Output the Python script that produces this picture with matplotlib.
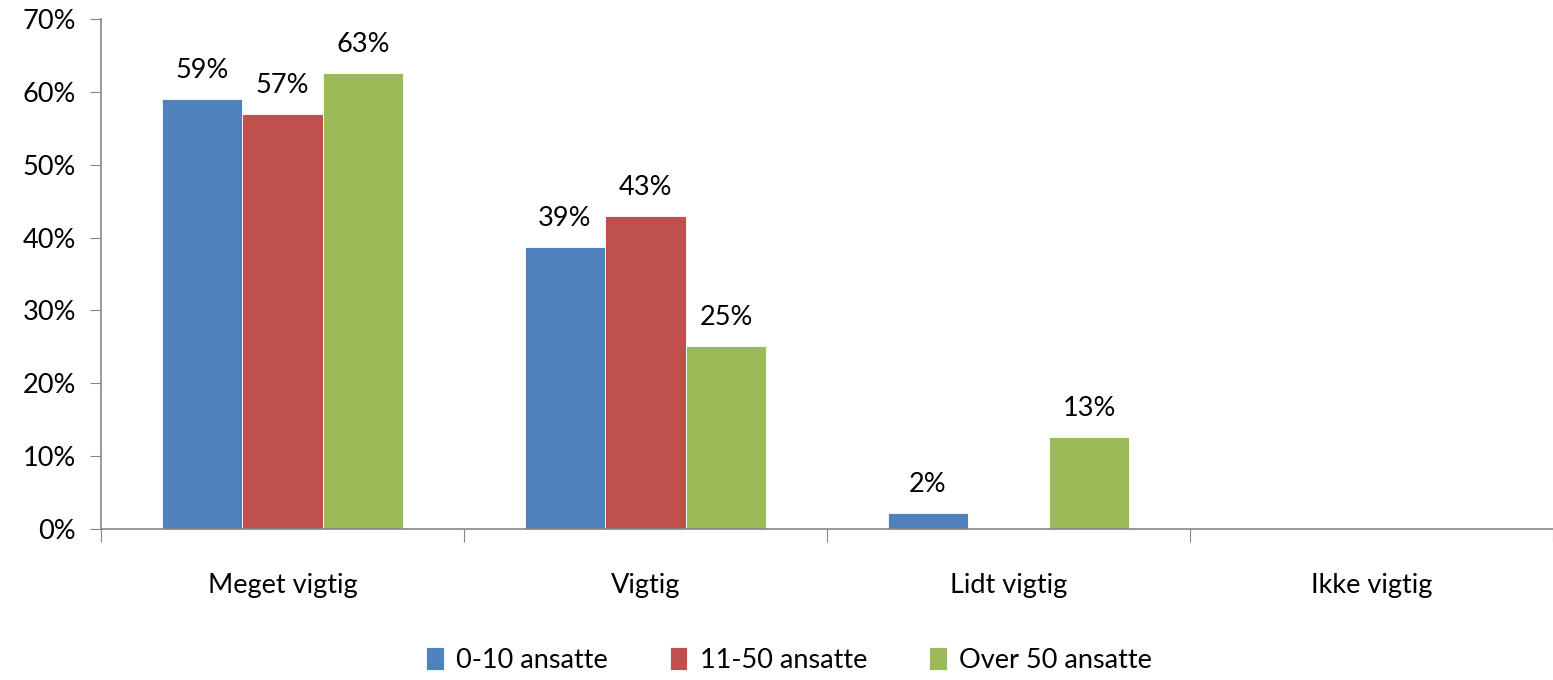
import matplotlib.pyplot as plt
import numpy as np

plt.rcParams['font.family'] = ['Lato', 'DejaVu Sans']

categories = ['Meget vigtig', 'Vigtig', 'Lidt vigtig', 'Ikke vigtig']
series = ['0-10 ansatte', '11-50 ansatte', 'Over 50 ansatte']
small = [0.590, 0.387, 0.022, 0.0]
medium = [0.570, 0.430, 0.0, 0.0]
large = [0.626, 0.251, 0.126, 0.0]
colors = ['#4f81bd', '#c0504d', '#9bbb59']

fs = 19.5

fig = plt.figure(figsize=(15.53, 6.8), dpi=100)
ax = fig.add_axes([0.065, 0.222, 0.935, 0.75])

x = np.arange(len(categories))
w = 0.222
for i, (vals, name, c) in enumerate(zip([small, medium, large], series, colors)):
    pos = x + (i - 1) * w
    bars = ax.bar(pos, vals, w, color=c, label=name, edgecolor='white', linewidth=0.6)
    for b, v in zip(bars, vals):
        if v > 0:
            ax.text(b.get_x() + b.get_width() / 2, v + 0.022, f'{v*100:.0f}%',
                    ha='center', va='bottom', fontsize=fs)

ax.set_xlim(-0.5, len(categories) - 0.5)
ax.set_ylim(0, 0.7)
ax.set_yticks(np.arange(0, 0.71, 0.1))
ax.set_yticklabels([f'{int(round(t*100))}%' for t in np.arange(0, 0.71, 0.1)], fontsize=fs)

ax.set_xticks(np.arange(-0.5, len(categories)), minor=False)
ax.set_xticklabels([])
ax.set_xticks(x, minor=True)
ax.set_xticklabels(categories, minor=True, fontsize=fs)
ax.tick_params(axis='x', which='minor', length=0, pad=32)
ax.tick_params(axis='x', which='major', length=9, color='#868686', direction='out')
ax.tick_params(axis='y', length=8, color='#868686', pad=10)

for s in ['top', 'right']:
    ax.spines[s].set_visible(False)
for s in ['left', 'bottom']:
    ax.spines[s].set_color('#868686')
    ax.spines[s].set_linewidth(1.2)

fig.legend(loc='lower center', bbox_to_anchor=(0.508, -0.025), ncol=3, frameon=False,
           fontsize=fs, handlelength=0.65, handleheight=0.9, handletextpad=0.45, columnspacing=2.3)

fig.savefig('out.png', dpi=100)
